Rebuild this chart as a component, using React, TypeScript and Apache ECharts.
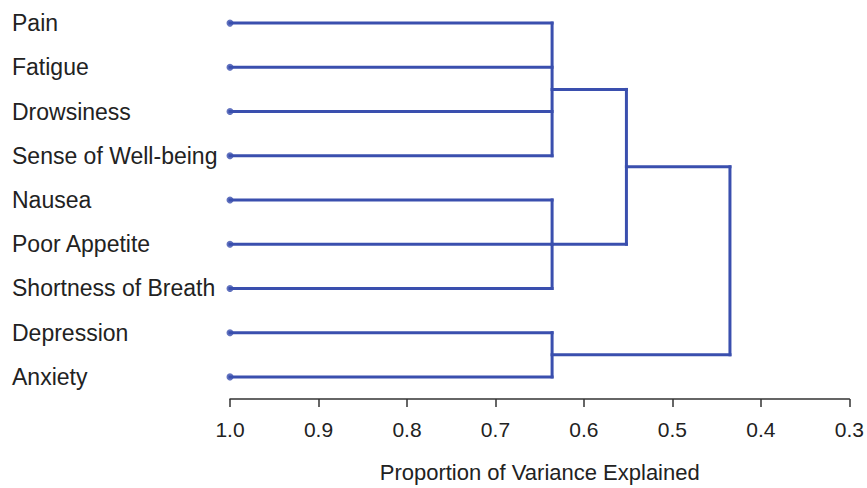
import React, { useEffect, useRef } from "react";
import * as echarts from "echarts";

const leaves = [
  "Pain",
  "Fatigue",
  "Drowsiness",
  "Sense of Well-being",
  "Nausea",
  "Poor Appetite",
  "Shortness of Breath",
  "Depression",
  "Anxiety",
];
// merge nodes: leaves have ids 0..8, merge k gets id 9 + k
const mergeChildren = [
  [0, 1, 2, 3],
  [4, 5, 6],
  [7, 8],
  [9, 10],
  [12, 11],
];
const mergeHeights = [0.636, 0.636, 0.636, 0.552, 0.435];
const leafHeight = 1.0;

const COLOR = "#3a4fae";
const FONT = "Liberation Sans, Arial, sans-serif";

function buildSegments() {
  const n = leaves.length;
  const nodeX: number[] = [];
  const nodeY: number[] = [];
  for (let i = 0; i < n; i++) {
    nodeX[i] = leafHeight;
    nodeY[i] = i;
  }
  const segs: number[][] = [];
  mergeChildren.forEach((ch, k) => {
    const h = mergeHeights[k];
    const ys = ch.map((c) => nodeY[c]);
    const yMin = Math.min(...ys);
    const yMax = Math.max(...ys);
    segs.push([h, yMin, h, yMax]);
    ch.forEach((c) => {
      segs.push([nodeX[c], nodeY[c], h, nodeY[c]]);
    });
    nodeX[n + k] = h;
    nodeY[n + k] = (yMin + yMax) / 2;
  });
  return segs;
}

export default function App() {
  const ref = useRef<HTMLDivElement>(null);
  useEffect(() => {
    if (!ref.current) return;
    const chart = echarts.init(ref.current, null, { renderer: "svg" });
    const segs = buildSegments();
    chart.setOption({
      animation: false,
      backgroundColor: "#ffffff",
      grid: { left: 230, right: 17, top: 1, bottom: 87 },
      xAxis: {
        type: "value",
        min: 0.3,
        max: 1.0,
        interval: 0.1,
        inverse: true,
        position: "bottom",
        name: "Proportion of Variance Explained",
        nameLocation: "middle",
        nameGap: 62,
        nameTextStyle: { fontFamily: FONT, fontSize: 22, color: "#222" },
        axisLine: { show: true, onZero: false, lineStyle: { color: "#333", width: 1.5 } },
        axisTick: { show: true, length: 8, lineStyle: { color: "#333", width: 1.5 } },
        axisLabel: {
          fontFamily: FONT,
          fontSize: 21,
          color: "#222",
          margin: 20,
          formatter: (v: number) => v.toFixed(1),
        },
        splitLine: { show: false },
      },
      yAxis: [
        {
          type: "category",
          data: leaves,
          inverse: true,
          boundaryGap: true,
          axisLine: { show: false },
          axisTick: { show: false },
          splitLine: { show: false },
          axisLabel: {
            align: "left",
            margin: 218,
            fontFamily: FONT,
            fontSize: 23,
            color: "#222",
          },
        },
        {
          type: "value",
          min: -0.5,
          max: 8.5,
          inverse: true,
          show: false,
        },
      ],
      series: [
        {
          type: "custom",
          yAxisIndex: 1,
          data: segs,
          clip: false,
          renderItem: (params: any, api: any) => {
            const p1 = api.coord([api.value(0), api.value(1)]);
            const p2 = api.coord([api.value(2), api.value(3)]);
            return {
              type: "line",
              shape: { x1: p1[0], y1: p1[1], x2: p2[0], y2: p2[1] },
              style: { stroke: COLOR, lineWidth: 3, lineCap: "square" },
            };
          },
          encode: { x: [0, 2], y: [1, 3] },
        },
        {
          type: "scatter",
          yAxisIndex: 1,
          symbol: "circle",
          symbolSize: 7,
          itemStyle: { color: COLOR },
          data: leaves.map((_, i) => [leafHeight, i]),
          z: 5,
        },
      ],
    });
    return () => chart.dispose();
  }, []);
  return (
    <div
      ref={ref}
      style={{ position: "absolute", left: 0, top: 0, width: 867, height: 488 }}
    />
  );
}
